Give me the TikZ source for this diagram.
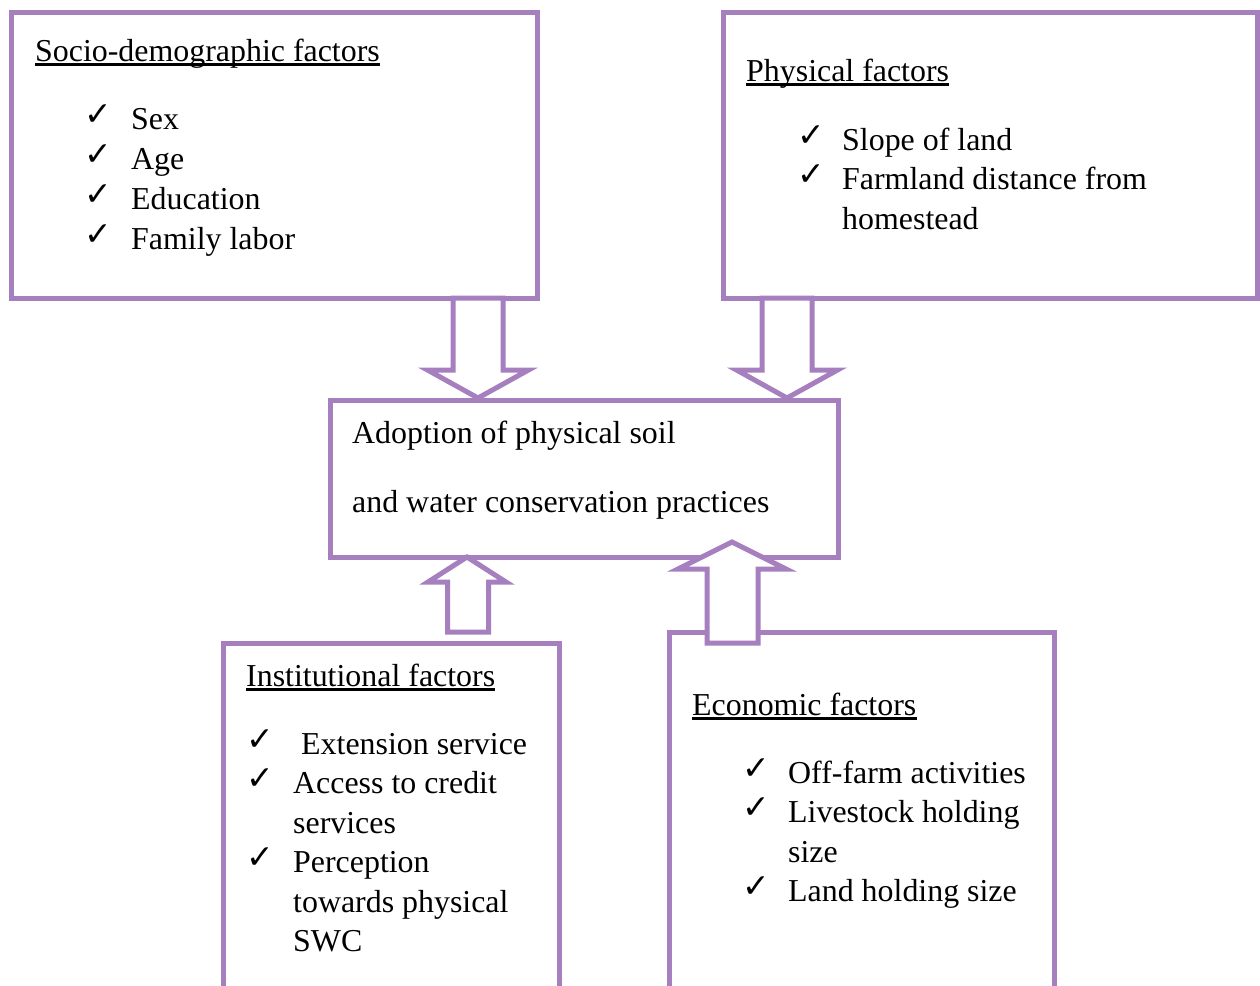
\documentclass[tikz,border=0pt]{standalone}
\usepackage{fontspec}
\setmainfont{Liberation Serif}
\newfontfamily\dejavu{DejaVu Sans Bold}
\usetikzlibrary{calc}
\definecolor{lilac}{HTML}{A67FBF}
\tikzset{
  box/.style={draw=lilac, line width=5pt, rectangle, inner sep=0pt},
  blk/.style={draw=lilac, line width=5pt, fill=white, line join=miter},
  blockarrow/.style n args={3}{to path={
    let \p1=(\tikztostart), \p2=(\tikztotarget),
        \n1={ifthenelse(\y2<\y1,1,-1)} in
    (\x1-#1,\y1) -- (\x1-#1,\y2+\n1*#3) -- (\x2-#2,\y2+\n1*#3) -- (\x2,\y2)
    -- (\x2+#2,\y2+\n1*#3) -- (\x1+#1,\y2+\n1*#3) -- (\x1+#1,\y1) -- cycle}},
  txt/.style={anchor=base west, inner sep=0pt, font=\fontsize{31.9}{38}\selectfont},
  chk/.style={anchor=base west, inner sep=0pt, yshift=4pt, font=\dejavu\fontsize{33}{36}\selectfont},
  ul/.style={line width=2.2pt}
}
\newcommand{\ck}{✓}
\begin{document}
\begin{tikzpicture}[x=1pt,y=-1pt]
\useasboundingbox (0,0) rectangle (1260,985);
\clip (0,0) rectangle (1260,985);

% boxes
\node[box, minimum width=526pt, minimum height=286pt] (socio) at (274,155) {};
\node[box, minimum width=534pt, minimum height=286pt] (phys) at (990,155) {};
\node[box, minimum width=508pt, minimum height=157pt] (adopt) at (584,478.5) {};
\node[box, minimum width=336pt, minimum height=400pt] (inst) at (391,843) {};
\node[box, minimum width=385pt, minimum height=400pt] (econ) at (861.5,832) {};

% block arrows
\coordinate (d1s) at (478,298);   \coordinate (d1t) at (478,398);
\coordinate (d2s) at (787,298);   \coordinate (d2t) at (787,398);
\coordinate (u1s) at (468,632);   \coordinate (u1t) at (467,557);
\coordinate (u2s) at (732.5,643); \coordinate (u2t) at (732,542);
\draw[blk, blockarrow={25pt}{50.5pt}{28pt}] (d1s) to (d1t);
\draw[blk, blockarrow={25pt}{50.5pt}{28pt}] (d2s) to (d2t);
\draw[blk, blockarrow={20.5pt}{39pt}{25pt}] (u1s) to (u1t);
\draw[blk, blockarrow={25.5pt}{54pt}{27pt}] (u2s) to (u2t);

% socio-demographic
\node[txt] (h1) at (35,61) {Socio-demographic factors};
\draw[ul] ([yshift=-3.5pt]h1.base west) -- ([yshift=-3.5pt]h1.base east);
\node[chk] (c11) at (84,129) {\ck}; \node[txt] (t11) at (131,129) {Sex};
\node[chk] (c12) at (84,169) {\ck}; \node[txt] (t12) at (131,169) {Age};
\node[chk] (c13) at (84,209) {\ck}; \node[txt] (t13) at (131,209) {Education};
\node[chk] (c14) at (84,249) {\ck}; \node[txt] (t14) at (131,249) {Family labor};

% physical
\node[txt] (h2) at (746,81) {Physical factors};
\draw[ul] ([yshift=-3.5pt]h2.base west) -- ([yshift=-3.5pt]h2.base east);
\node[chk] (c21) at (797,150) {\ck}; \node[txt] (t21) at (842,150) {Slope of land};
\node[chk] (c22) at (797,189) {\ck}; \node[txt] (t22) at (842,189) {Farmland distance from};
\node[txt] (t23) at (842,229) {homestead};

% adoption
\node[txt] (a1) at (352,443.5) {Adoption of physical soil};
\node[txt] (a2) at (352,512.5) {and water conservation practices};

% institutional
\node[txt] (h3) at (246,686) {Institutional factors};
\draw[ul] ([yshift=-3.5pt]h3.base west) -- ([yshift=-3.5pt]h3.base east);
\node[chk] (c31) at (246,754) {\ck}; \node[txt] (t31) at (301,754) {Extension service};
\node[chk] (c32) at (246,793.5) {\ck}; \node[txt] (t32) at (293,793.5) {Access to credit};
\node[txt] (t33) at (293,833) {services};
\node[chk] (c34) at (246,872.5) {\ck}; \node[txt] (t34) at (293,872.5) {Perception};
\node[txt] (t35) at (293,912) {towards physical};
\node[txt] (t36) at (293,951.5) {SWC};

% economic
\node[txt] (h4) at (692,715) {Economic factors};
\draw[ul] ([yshift=-3.5pt]h4.base west) -- ([yshift=-3.5pt]h4.base east);
\node[chk] (c41) at (742,783) {\ck}; \node[txt] (t41) at (788,783) {Off-farm activities};
\node[chk] (c42) at (742,822.5) {\ck}; \node[txt] (t42) at (788,822.5) {Livestock holding};
\node[txt] (t43) at (788,862) {size};
\node[chk] (c44) at (742,901.5) {\ck}; \node[txt] (t44) at (788,901.5) {Land holding size};
\end{tikzpicture}
\end{document}
